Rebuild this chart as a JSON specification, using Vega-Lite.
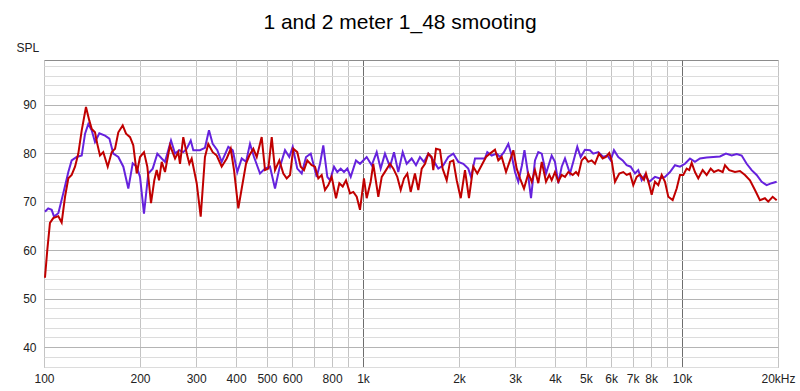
{
 "$schema": "https://vega.github.io/schema/vega-lite/v6.json",
 "width": 734, "height": 307,
 "autosize": {"type": "none"},
 "padding": {"left": 44, "top": 60, "right": 22, "bottom": 24},
 "background": "white",
 "title": {"text": "1 and 2 meter 1_48 smooting", "fontSize": 21, "font": "Liberation Sans", "fontWeight": "normal", "color": "#000000", "anchor": "middle", "offset": 8, "dx": -11},
 "config": {
  "view": {"stroke": "#8c8c8c", "strokeWidth": 1},
  "axis": {"labelFont": "Liberation Sans", "labelFontSize": 12, "labelColor": "#222222", "ticks": false, "domain": false}
 },
 "encoding": {
  "x": {"field": "f", "type": "quantitative",
   "scale": {"type": "log", "domain": [100, 20000], "nice": false},
   "axis": {"values": [100,200,300,400,500,600,700,800,900,1000,2000,3000,4000,5000,6000,7000,8000,9000,10000,20000],
    "labelExpr": "datum.value==700||datum.value==900||datum.value==9000 ? '' : (datum.value==20000 ? '20kHz' : (datum.value>=1000 ? (datum.value/1000)+'k' : datum.value+''))",
    "title": null, "labelFlush": false, "labelOverlap": false, "labelPadding": 6,
    "gridColor": {"condition": {"test": "datum.value==1000||datum.value==10000", "value": "#6e6e6e"}, "value": "#c4c4c4"}}},
  "y": {"field": "spl", "type": "quantitative",
   "scale": {"domain": [35.9, 99.2], "nice": false, "zero": false},
   "axis": {"values": [36,38,40,42,44,46,48,50,52,54,56,58,60,62,64,66,68,70,72,74,76,78,80,82,84,86,88,90,92,94,96,98],
    "labelExpr": "datum.value%10==0 ? datum.value+'' : ''",
    "title": "SPL", "titleAngle": 0, "titleX": -28, "titleY": -13, "titleAlign": "left", "titleBaseline": "middle",
    "titleFont": "Liberation Sans", "titleFontSize": 12, "titleFontWeight": "normal", "titleColor": "#222222",
    "labelPadding": 8, "labelOverlap": false,
    "gridColor": {"condition": {"test": "datum.value%10==0", "value": "#b4b4b4"}, "value": "#dcdcdc"}}}
 },
 "layer": [
  {"data": {"values": [
   {"f":100.7,"spl":67.9},{"f":103.1,"spl":68.6},{"f":105.7,"spl":68.3},{"f":107.5,"spl":66.9},{"f":110.9,"spl":67.6},{"f":114.9,"spl":71.7},{"f":119.2,"spl":76.1},{"f":122.1,"spl":78.5},{"f":126.6,"spl":79.2},{"f":131.3,"spl":79.5},{"f":134.5,"spl":84},{"f":137.7,"spl":86},{"f":141.1,"spl":84.7},{"f":144.5,"spl":82.3},{"f":149.1,"spl":84.1},{"f":155.4,"spl":83.6},{"f":160.3,"spl":83},{"f":164.9,"spl":79.9},{"f":171,"spl":79.2},{"f":177.3,"spl":77.2},{"f":183.8,"spl":72.7},{"f":189.7,"spl":77.9},{"f":195.3,"spl":77.2},{"f":200,"spl":75.1},{"f":205.8,"spl":67.5},{"f":212.3,"spl":75.8},{"f":219.2,"spl":76.8},{"f":226.6,"spl":79.9},{"f":233.9,"spl":78.9},{"f":239.5,"spl":78.2},{"f":250.1,"spl":82.6},{"f":257.5,"spl":79.9},{"f":265.6,"spl":80.6},{"f":273.3,"spl":80.2},{"f":280.2,"spl":80.9},{"f":288.4,"spl":82.6},{"f":293.8,"spl":80.6},{"f":308.3,"spl":80.6},{"f":319.6,"spl":81.1},{"f":329,"spl":84.7},{"f":338,"spl":81.9},{"f":349.4,"spl":80.6},{"f":360.6,"spl":78.2},{"f":378.3,"spl":81.3},{"f":390.6,"spl":80.6},{"f":403.6,"spl":76.1},{"f":416.7,"spl":78.9},{"f":429.8,"spl":78.2},{"f":442.4,"spl":81.9},{"f":455.4,"spl":79.2},{"f":475.6,"spl":75.8},{"f":493,"spl":76.8},{"f":511.1,"spl":77.2},{"f":529.9,"spl":72.7},{"f":546.7,"spl":76.8},{"f":569.6,"spl":80.6},{"f":587.5,"spl":79.2},{"f":602.1,"spl":81.3},{"f":622.3,"spl":76.8},{"f":642.5,"spl":75.8},{"f":662.9,"spl":79.2},{"f":685.8,"spl":79.9},{"f":716,"spl":75.1},{"f":733.3,"spl":77.8},{"f":750.9,"spl":81.6},{"f":773,"spl":75.1},{"f":788.3,"spl":74.4},{"f":811.3,"spl":77.2},{"f":830.8,"spl":76.1},{"f":851.4,"spl":76.8},{"f":871.9,"spl":76.1},{"f":893,"spl":76.8},{"f":915.2,"spl":75.1},{"f":950.6,"spl":78.5},{"f":978.6,"spl":77.8},{"f":1027,"spl":79.2},{"f":1065,"spl":77.5},{"f":1104,"spl":80.2},{"f":1136,"spl":76.8},{"f":1172,"spl":79.9},{"f":1215,"spl":77.2},{"f":1251,"spl":80.2},{"f":1290,"spl":76.1},{"f":1332,"spl":80.2},{"f":1371,"spl":77.8},{"f":1421,"spl":78.9},{"f":1466,"spl":77.5},{"f":1509,"spl":79.2},{"f":1553,"spl":78.2},{"f":1603,"spl":79.9},{"f":1661,"spl":78.5},{"f":1722,"spl":76.8},{"f":1785,"spl":77.5},{"f":1851,"spl":79.2},{"f":1919,"spl":79.9},{"f":1990,"spl":78.2},{"f":2063,"spl":77.8},{"f":2138,"spl":76.8},{"f":2181,"spl":75.1},{"f":2245,"spl":78.9},{"f":2327,"spl":78.9},{"f":2412,"spl":78.9},{"f":2453,"spl":80.2},{"f":2532,"spl":79.5},{"f":2625,"spl":79.9},{"f":2689,"spl":79.2},{"f":2767,"spl":80.2},{"f":2855,"spl":81.9},{"f":2925,"spl":79.5},{"f":2996,"spl":76.1},{"f":3068,"spl":74.1},{"f":3150,"spl":77.5},{"f":3208,"spl":80.6},{"f":3279,"spl":76.5},{"f":3363,"spl":70.7},{"f":3461,"spl":78.5},{"f":3545,"spl":80.2},{"f":3634,"spl":79.9},{"f":3748,"spl":75.8},{"f":3904,"spl":79.5},{"f":3998,"spl":78.2},{"f":4095,"spl":73.8},{"f":4197,"spl":77.2},{"f":4298,"spl":78.9},{"f":4456,"spl":75.8},{"f":4563,"spl":78.2},{"f":4697,"spl":81.3},{"f":4813,"spl":79.2},{"f":4963,"spl":80.7},{"f":5146,"spl":80.6},{"f":5271,"spl":79.9},{"f":5465,"spl":80.2},{"f":5666,"spl":79.2},{"f":5831,"spl":79.5},{"f":5977,"spl":78.5},{"f":6121,"spl":80.6},{"f":6314,"spl":79.2},{"f":6517,"spl":78.5},{"f":6708,"spl":77.5},{"f":6906,"spl":77.2},{"f":7124,"spl":75.8},{"f":7295,"spl":76.5},{"f":7475,"spl":74.4},{"f":7656,"spl":75.5},{"f":7898,"spl":74.1},{"f":8230,"spl":75.1},{"f":8531,"spl":74.8},{"f":8846,"spl":75.1},{"f":9172,"spl":76.1},{"f":9506,"spl":77.5},{"f":9857,"spl":77.2},{"f":10219,"spl":77.8},{"f":10595,"spl":78.9},{"f":10984,"spl":78.2},{"f":11387,"spl":78.9},{"f":11950,"spl":79.1},{"f":12536,"spl":79.2},{"f":13155,"spl":79.3},{"f":13737,"spl":79.9},{"f":14316,"spl":79.5},{"f":14843,"spl":79.8},{"f":15387,"spl":79.5},{"f":15952,"spl":77.8},{"f":16537,"spl":76.5},{"f":17144,"spl":75.5},{"f":17774,"spl":74.1},{"f":18426,"spl":73.4},{"f":19107,"spl":73.8},{"f":19810,"spl":74.1}
  ]},
   "mark": {"type": "line", "color": "#6622dd", "strokeWidth": 2, "clip": true}},
  {"data": {"values": [
   {"f":100.7,"spl":54.3},{"f":102.4,"spl":60},{"f":104.4,"spl":65.6},{"f":106.9,"spl":66.6},{"f":110.9,"spl":67},{"f":113.6,"spl":65.7},{"f":116.4,"spl":71},{"f":119.2,"spl":74.8},{"f":122.1,"spl":75.5},{"f":125.1,"spl":77.2},{"f":128.1,"spl":79.9},{"f":131.3,"spl":84.7},{"f":135.4,"spl":89.5},{"f":138.7,"spl":86.7},{"f":141.1,"spl":85},{"f":144.5,"spl":84.3},{"f":146.9,"spl":81.9},{"f":149.8,"spl":79.5},{"f":153.4,"spl":80.2},{"f":158.4,"spl":77.2},{"f":163,"spl":80.2},{"f":167,"spl":80.9},{"f":171,"spl":84.3},{"f":176.5,"spl":85.7},{"f":180.8,"spl":84},{"f":186.1,"spl":83.3},{"f":190.5,"spl":81.6},{"f":195.3,"spl":75.8},{"f":200,"spl":79.2},{"f":205.8,"spl":80.2},{"f":210.8,"spl":77.2},{"f":216.5,"spl":69.7},{"f":221.7,"spl":74.4},{"f":225.6,"spl":76.5},{"f":229.4,"spl":74.4},{"f":233.9,"spl":78.2},{"f":239.5,"spl":76.1},{"f":248.3,"spl":81.6},{"f":257.5,"spl":78.9},{"f":263.6,"spl":80.2},{"f":266.9,"spl":77.8},{"f":273.3,"spl":83.3},{"f":280.2,"spl":79.9},{"f":285.5,"spl":77.8},{"f":290.4,"spl":78.9},{"f":301.1,"spl":73.8},{"f":309.9,"spl":66.9},{"f":319.6,"spl":79.2},{"f":327.3,"spl":81.9},{"f":338,"spl":80.2},{"f":347.9,"spl":79.5},{"f":360.6,"spl":77.2},{"f":373.9,"spl":78.9},{"f":384.9,"spl":80.9},{"f":394.2,"spl":76.5},{"f":406.6,"spl":68.6},{"f":416.7,"spl":72.7},{"f":429.8,"spl":77.8},{"f":440.2,"spl":79.5},{"f":453.1,"spl":80.9},{"f":464.4,"spl":79.2},{"f":481.3,"spl":83.3},{"f":493,"spl":76.5},{"f":504.9,"spl":76.8},{"f":517.5,"spl":83.3},{"f":529.9,"spl":76.5},{"f":546.7,"spl":78.5},{"f":562.6,"spl":75.8},{"f":576.6,"spl":74.8},{"f":590.5,"spl":75.5},{"f":604.8,"spl":80.9},{"f":622.3,"spl":80.2},{"f":637.9,"spl":77.2},{"f":653.2,"spl":76.5},{"f":669,"spl":78.5},{"f":690.6,"spl":77.5},{"f":707.2,"spl":77.2},{"f":724.3,"spl":74.8},{"f":742.2,"spl":75.5},{"f":760.2,"spl":72.4},{"f":778.5,"spl":73.4},{"f":797.9,"spl":75.1},{"f":823.1,"spl":70.7},{"f":842.9,"spl":73.8},{"f":864,"spl":73.1},{"f":884.8,"spl":74.4},{"f":910.6,"spl":71.7},{"f":932.6,"spl":72},{"f":955.7,"spl":71},{"f":978.6,"spl":68.3},{"f":1007,"spl":74.8},{"f":1027,"spl":70.7},{"f":1057,"spl":74.1},{"f":1077,"spl":77.8},{"f":1117,"spl":71},{"f":1145,"spl":75.1},{"f":1181,"spl":76.5},{"f":1215,"spl":77.8},{"f":1245,"spl":76.8},{"f":1281,"spl":75.1},{"f":1313,"spl":72.4},{"f":1345,"spl":74.8},{"f":1377,"spl":75.8},{"f":1411,"spl":72},{"f":1455,"spl":75.8},{"f":1491,"spl":72.4},{"f":1528,"spl":76.8},{"f":1565,"spl":77.8},{"f":1603,"spl":79.9},{"f":1642,"spl":79.2},{"f":1661,"spl":76.5},{"f":1694,"spl":80.9},{"f":1743,"spl":80.7},{"f":1777,"spl":76.8},{"f":1830,"spl":74.4},{"f":1874,"spl":78.2},{"f":1919,"spl":78.5},{"f":1967,"spl":74.4},{"f":2025,"spl":70.7},{"f":2088,"spl":76.5},{"f":2149,"spl":70.7},{"f":2217,"spl":77.2},{"f":2282,"spl":75.8},{"f":2355,"spl":77.5},{"f":2430,"spl":79.2},{"f":2501,"spl":79.9},{"f":2593,"spl":80.7},{"f":2656,"spl":78.5},{"f":2722,"spl":79.2},{"f":2808,"spl":76.1},{"f":2890,"spl":78.5},{"f":2960,"spl":80.6},{"f":3033,"spl":76.8},{"f":3106,"spl":74.8},{"f":3197,"spl":72.7},{"f":3298,"spl":75.8},{"f":3380,"spl":74.1},{"f":3461,"spl":76.5},{"f":3545,"spl":73.8},{"f":3634,"spl":78.2},{"f":3748,"spl":74.1},{"f":3837,"spl":75.5},{"f":3904,"spl":74.4},{"f":3998,"spl":76.1},{"f":4095,"spl":74.1},{"f":4197,"spl":75.5},{"f":4298,"spl":75.1},{"f":4402,"spl":76.1},{"f":4544,"spl":75.5},{"f":4653,"spl":76.1},{"f":4731,"spl":75.5},{"f":4849,"spl":78.5},{"f":4963,"spl":79.2},{"f":5084,"spl":78.2},{"f":5210,"spl":78.5},{"f":5336,"spl":77.8},{"f":5493,"spl":79.9},{"f":5641,"spl":78.9},{"f":5777,"spl":79.2},{"f":5916,"spl":80},{"f":6019,"spl":78.5},{"f":6166,"spl":74.1},{"f":6360,"spl":75.8},{"f":6546,"spl":76.1},{"f":6708,"spl":75.5},{"f":6871,"spl":75.8},{"f":7036,"spl":73.4},{"f":7211,"spl":75.1},{"f":7385,"spl":75.6},{"f":7601,"spl":74.5},{"f":7711,"spl":75.8},{"f":7898,"spl":73.4},{"f":8035,"spl":71.4},{"f":8230,"spl":74.1},{"f":8428,"spl":73.4},{"f":8638,"spl":75.5},{"f":8846,"spl":74.1},{"f":9060,"spl":71},{"f":9351,"spl":70.3},{"f":9625,"spl":72.7},{"f":9857,"spl":75.5},{"f":10094,"spl":75.5},{"f":10344,"spl":76.8},{"f":10541,"spl":76.5},{"f":10725,"spl":78},{"f":10984,"spl":76.1},{"f":11248,"spl":74.8},{"f":11611,"spl":76.5},{"f":11950,"spl":75.5},{"f":12303,"spl":76.8},{"f":12599,"spl":76.1},{"f":12996,"spl":76.5},{"f":13416,"spl":76.1},{"f":13641,"spl":77.5},{"f":14067,"spl":76.5},{"f":14659,"spl":76.1},{"f":15199,"spl":76.3},{"f":15757,"spl":75.5},{"f":16337,"spl":74.4},{"f":16935,"spl":72.4},{"f":17556,"spl":70.3},{"f":18200,"spl":70.7},{"f":18637,"spl":70},{"f":19244,"spl":71},{"f":19810,"spl":70.3}
  ]},
   "mark": {"type": "line", "color": "#c00000", "strokeWidth": 2, "clip": true}}
 ]
}
